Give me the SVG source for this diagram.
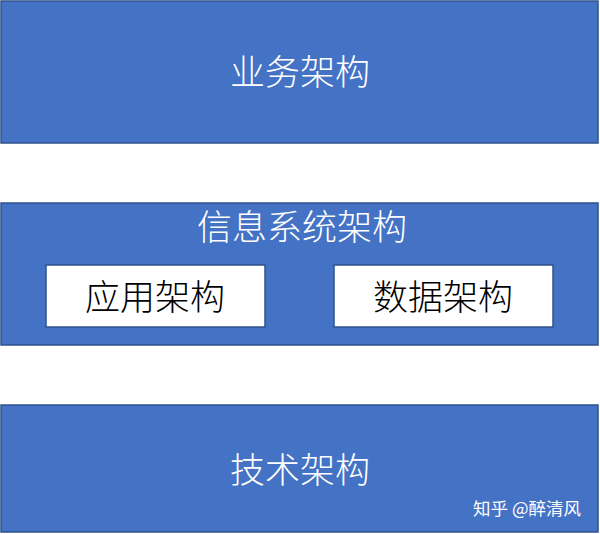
<svg xmlns="http://www.w3.org/2000/svg" width="600" height="534" viewBox="0 0 600 534">
<style>
.band{fill:#4472C4;stroke:#2F528F;stroke-width:1.5}
.box{fill:#FFFFFF;stroke:#2F528F;stroke-width:1.5}
.t{font-family:"Noto Sans CJK SC","Noto Sans",sans-serif;font-size:35px;font-weight:300;text-anchor:middle}
.w{fill:#FFFFFF}
.k{fill:#000000}
.wm{font-family:"Noto Sans CJK SC","Noto Sans",sans-serif;font-size:17.5px;fill:#FFFFFF}
</style>
<rect width="600" height="534" fill="#FFFFFF"/>
<g id="business">
<rect class="band" x="1" y="1" width="597" height="142"/>
<text class="t w" x="300" y="85">业务架构</text>
</g>
<g id="info-system">
<rect class="band" x="1" y="203" width="597" height="142"/>
<text class="t w" x="302" y="240">信息系统架构</text>
</g>
<g id="application">
<rect class="box" x="46" y="265" width="219" height="62"/>
<text class="t k" x="155" y="310">应用架构</text>
</g>
<g id="data">
<rect class="box" x="334" y="265" width="219" height="62"/>
<text class="t k" x="443" y="310">数据架构</text>
</g>
<g id="technology">
<rect class="band" x="1" y="405" width="597" height="127"/>
<text class="t w" x="300" y="483">技术架构</text>
</g>
<g id="connectors"></g>
<text class="wm" x="473" y="515">知乎 @醉清风</text>
</svg>
